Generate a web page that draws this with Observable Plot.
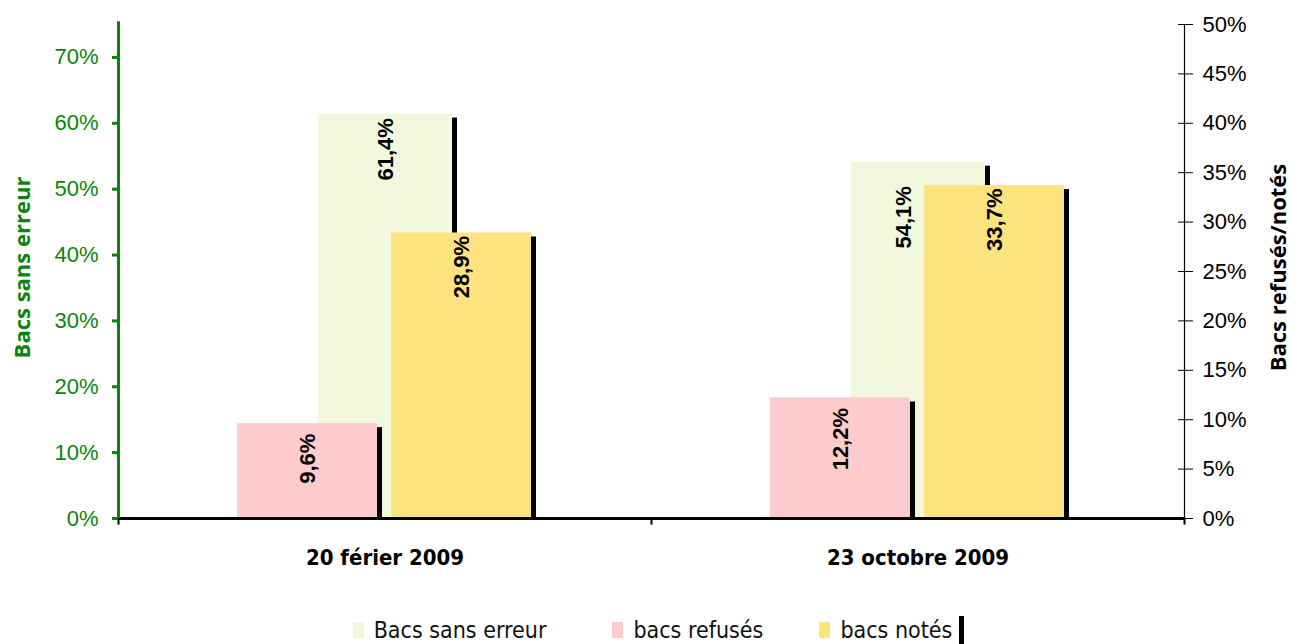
<!DOCTYPE html>
<html>
<head>
<meta charset="utf-8">
<script src="https://cdn.jsdelivr.net/npm/d3@7"></script>
<script src="https://cdn.jsdelivr.net/npm/@observablehq/plot@0.6"></script>
<style>
  html, body { margin: 0; padding: 0; background: #fff; }
  #chart { position: relative; width: 1301px; height: 644px; }
  #legend { position: absolute; left: 0; top: 612px; width: 1301px; box-sizing: border-box; padding-left: 16px;
            display: flex; justify-content: center; align-items: center;
            font-family: "DejaVu Sans Condensed", "DejaVu Sans", sans-serif; font-size: 23px; color: #111; }
  .item { display: flex; align-items: center; }
  .sw { width: 11px; height: 16px; margin-right: 10px; }
  .shadowbar { width: 5px; height: 32px; background: #000; margin-top: 4px; }
</style>
</head>
<body>
<div id="chart"></div>
<script>
// ---- data ----
const dates = ["20 férier 2009", "23 octobre 2009"];
const sansErreur = [0.614, 0.541];   // left axis
const refuses = [0.096, 0.122];      // right axis
const notes = [0.289, 0.337];        // right axis
const sansErreurLabels = ["61,4%", "54,1%"];
const refusesLabels = ["9,6%", "12,2%"];
const notesLabels = ["28,9%", "33,7%"];
const leftTicks = [0, 0.1, 0.2, 0.3, 0.4, 0.5, 0.6, 0.7];
const rightTicks = [0, 0.05, 0.1, 0.15, 0.2, 0.25, 0.3, 0.35, 0.4, 0.45, 0.5];
const seriesNames = ["Bacs sans erreur", "bacs refusés", "bacs notés"];
const colors = ["#F2F8DE", "#FECCCC", "#FDE37F"];

// ---- layout ----
const W = 1301, H = 604;
const mL = 118, mR = 117, mT = 24, mB = H - 518;
const bw = (W - mL - mR) / 2;           // band width
const ratio = 0.75 / 0.5;               // right axis -> left axis units
const green = "#0A840A";

const rowsG = dates.map((d, i) => ({date: d, v: sansErreur[i], label: sansErreurLabels[i], i}));
const rowsR = dates.map((d, i) => ({date: d, v: refuses[i] * ratio, label: refusesLabels[i], i}));
const rowsN = dates.map((d, i) => ({date: d, v: notes[i] * ratio, label: notesLabels[i], i}));

// bar geometry inside each band
const gL = 200, gW = 134;   // green bar
const rL = 119, rW = 140;   // pink bar
const nL = 273, nW = 140;   // yellow bar
const sW = 5;               // shadow width
const barIn = (left, w) => ({insetLeft: left, insetRight: bw - left - w});

const labelFont = {fontFamily: "Liberation Sans, Arial, sans-serif", fontSize: 22, fontWeight: "bold", fill: "#000", rotate: -90, textAnchor: "end"};

const plot = Plot.plot({
  width: W, height: H,
  marginLeft: mL, marginRight: mR, marginTop: mT, marginBottom: mB,
  x: {domain: dates, padding: 0, axis: null},
  y: {domain: [0, 0.75], axis: null},
  style: {background: "#fff", overflow: "visible"},
  marks: [
    // green bars + shadow
    Plot.barY(rowsG, {x: "date", y: "v", fill: colors[0], ...barIn(gL, gW)}),
    Plot.barY(rowsG, {x: "date", y: "v", fill: "#000", insetTop: 4, ...barIn(gL + gW, sW)}),
    // pink bars + shadow
    Plot.barY(rowsR, {x: "date", y: "v", fill: colors[1], ...barIn(rL, rW)}),
    Plot.barY(rowsR, {x: "date", y: "v", fill: "#000", insetTop: 4, ...barIn(rL + rW, sW)}),
    // yellow bars + shadow
    Plot.barY(rowsN, {x: "date", y: "v", fill: colors[2], ...barIn(nL, nW)}),
    Plot.barY(rowsN, {x: "date", y: "v", fill: "#000", insetTop: 4, ...barIn(nL + nW, sW)}),
    // value labels
    Plot.text(rowsG.filter(d => d.i === 0), {x: "date", y: "v", text: "label", dx: gL + gW / 2 - bw / 2, dy: 4, ...labelFont}),
    Plot.text(rowsG.filter(d => d.i === 1), {x: "date", y: "v", text: "label", dx: gL + gW / 2 - bw / 2 - 15, dy: 24, ...labelFont}),
    Plot.text(rowsR, {x: "date", y: "v", text: "label", dx: rL + rW / 2 - bw / 2, dy: 10, ...labelFont}),
    Plot.text(rowsN, {x: "date", y: "v", text: "label", dx: nL + nW / 2 - bw / 2, dy: 3, ...labelFont}),
    // baseline
    Plot.ruleY([0], {stroke: "#000", strokeWidth: 3}),
    // category boundary ticks
    Plot.ruleX([dates[0], dates[1]], {dx: -bw / 2, y1: 0, y2: -0.01, stroke: "#000", strokeWidth: 2}),
    Plot.ruleX([dates[1]], {dx: bw / 2, y1: 0, y2: -0.01, stroke: "#000", strokeWidth: 2}),
    // left axis line (green)
    Plot.ruleX([dates[0]], {dx: -bw / 2, y1: 0, y2: 0.754, stroke: green, strokeWidth: 3}),
    // right axis line
    Plot.ruleX([dates[1]], {dx: bw / 2, y1: 0, y2: 0.75, stroke: "#000", strokeWidth: 1.2}),
    // left axis
    Plot.axisY(leftTicks, {anchor: "left", tickSize: 6, tickPadding: 14, stroke: green, strokeWidth: 3, fill: green,
      tickFormat: d => Math.round(d * 100) + "%", fontSize: 22, fontFamily: "Liberation Sans, Arial, sans-serif", label: null}),
    // right axis
    Plot.axisY(rightTicks.map(t => t * ratio), {anchor: "right", tickSize: 15, dx: -7, tickPadding: 10, stroke: "#000", fill: "#000",
      tickFormat: d => Math.round(d / ratio * 100) + "%", fontSize: 22, fontFamily: "Liberation Sans, Arial, sans-serif", label: null}),
    // category labels
    Plot.text(dates, {x: d => d, frameAnchor: "bottom", dy: 46, fontFamily: "DejaVu Sans Condensed, DejaVu Sans, sans-serif",
      fontSize: 22, fontWeight: "bold", fill: "#000"}),
    // axis titles
    Plot.text(["Bacs sans erreur"], {frameAnchor: "left", textAnchor: "middle", dx: -96, dy: -4, rotate: -90, fill: green, fontWeight: "bold",
      fontSize: 22, fontFamily: "Open Sans, sans-serif"}),
    Plot.text(["Bacs refusés/notés"], {frameAnchor: "right", textAnchor: "middle", dx: 94, dy: -4, rotate: -90, fill: "#000", fontWeight: "bold",
      fontSize: 22, fontFamily: "Open Sans, sans-serif"})
  ]
});

const chart = document.getElementById("chart");
chart.appendChild(plot);

// legend
const gaps = [66, 56, 7];
const legend = document.createElement("div");
legend.id = "legend";
seriesNames.forEach((name, i) => {
  const it = document.createElement("div");
  it.className = "item";
  it.style.marginRight = gaps[i] + "px";
  const sw = document.createElement("div");
  sw.className = "sw";
  sw.style.background = colors[i];
  const tx = document.createElement("span");
  tx.textContent = name;
  it.appendChild(sw); it.appendChild(tx);
  legend.appendChild(it);
});
const sb = document.createElement("div");
sb.className = "shadowbar";
legend.appendChild(sb);
chart.appendChild(legend);
</script>
</body>
</html>
